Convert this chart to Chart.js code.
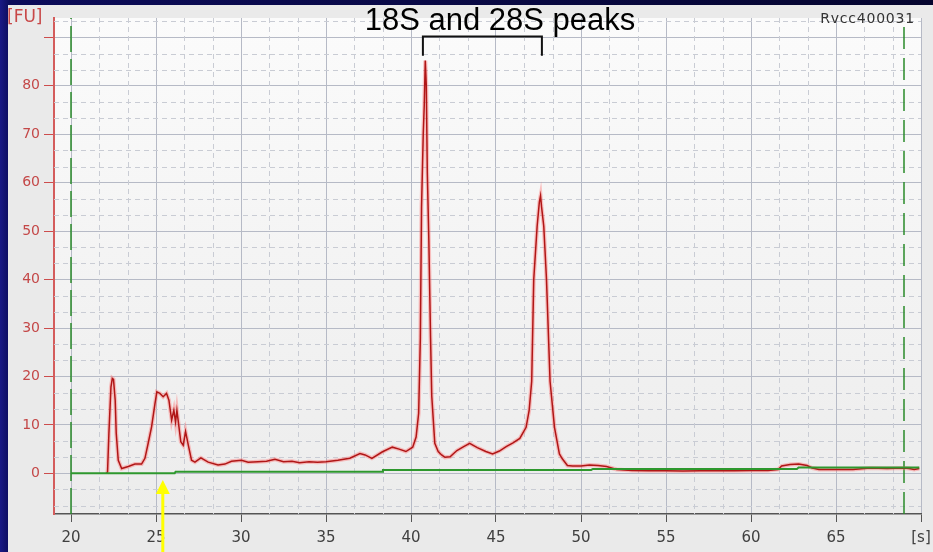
<!DOCTYPE html>
<html>
<head>
<meta charset="utf-8">
<script src="https://cdn.jsdelivr.net/npm/chart.js@4.4.0/dist/chart.umd.min.js"></script>
<style>
  html, body { margin: 0; padding: 0; }
  body {
    width: 933px; height: 552px; overflow: hidden; position: relative;
    background: linear-gradient(90deg, #1a1a86 0px, #0c0c5a 10px, #05052e 100%);
  }
  #panel { position: absolute; left: 8px; top: 5px; width: 925px; height: 547px; background: #eaeaea; }
  #wrap { position: absolute; left: 0; top: 0; width: 933px; height: 552px; }
  .lbl { position: absolute; white-space: nowrap; }
  #title { left: 300px; width: 400px; top: 4px; text-align: center; font: 31px/31px "Liberation Sans", Arial, sans-serif; color: #000; }
  #runid { right: 18px; top: 10px; font: 14px/16px "DejaVu Sans", sans-serif; letter-spacing: 0.8px; color: #333; }
  #unit { left: 7px; top: 7px; font: 17px/18px "DejaVu Sans", sans-serif; color: #c84848; }
</style>
</head>
<body>
<div id="panel"></div>
<div id="wrap"><canvas id="myChart" width="933" height="552"></canvas></div>
<div class="lbl" id="title">18S and 28S peaks</div>
<div class="lbl" id="runid">Rvcc400031</div>
<div class="lbl" id="unit">[FU]</div>
<script>
// electropherogram data
const redTime = [22.10, 22.15, 22.23, 22.35, 22.43, 22.50, 22.60, 22.66, 22.78, 22.98, 23.37, 23.76, 24.15, 24.35, 24.54, 24.74, 24.94, 25.05, 25.23, 25.42,
  25.62, 25.76, 25.92, 26.05, 26.15, 26.23, 26.35, 26.46, 26.60, 26.74, 26.90, 27.09, 27.29, 27.64, 28.07, 28.65, 29.05, 29.44, 30.03, 30.42,
  31.0, 31.5, 32.0, 32.5, 33.0, 33.45, 34.0, 34.5, 35.0, 35.7, 36.4, 37.0, 37.3, 37.7, 38.3, 38.9, 39.3, 39.7, 40.1, 40.3,
  40.45, 40.55, 40.62, 40.72, 40.78, 40.84, 40.90, 40.96, 41.05, 41.15, 41.22, 41.40, 41.60, 41.80, 42.00, 42.30, 42.70, 43.10, 43.45, 43.90,
  44.40, 44.80, 45.20, 45.60, 46.00, 46.40, 46.77, 46.95, 47.10, 47.22, 47.42, 47.55, 47.62, 47.68, 47.81, 47.97, 48.18, 48.44, 48.73, 48.90,
  49.20, 49.50, 50.00, 50.50, 51.00, 51.50, 52.10, 53, 54, 55, 56, 57, 58, 59, 60, 61, 61.6, 61.8, 62.3, 62.8,
  63.3, 63.6, 64.0, 64.8, 65.4, 66.0, 67.0, 68.0, 69.0, 69.3, 69.6, 69.9];
const redFU = [0, 0.3, 8.3, 17.8, 19.6, 19.4, 15.1, 8.3, 2.7, 1.0, 1.4, 1.9, 1.9, 3.1, 6.2, 9.6, 14.4, 16.8, 16.5, 15.8,
  16.5, 15.1, 11.0, 13.0, 10.6, 13.0, 9.6, 6.5, 5.8, 8.6, 5.8, 2.7, 2.3, 3.2, 2.3, 1.7, 1.9, 2.5, 2.7, 2.3,
  2.4, 2.5, 2.9, 2.4, 2.5, 2.2, 2.4, 2.3, 2.4, 2.7, 3.1, 4.1, 3.8, 3.1, 4.4, 5.4, 5.0, 4.5, 5.4, 7.5,
  12.4, 28, 55, 70, 76, 85.2, 80, 62, 48, 28, 16, 6.2, 4.5, 3.8, 3.3, 3.4, 4.7, 5.5, 6.2, 5.3,
  4.5, 4.0, 4.6, 5.5, 6.3, 7.2, 9.5, 13, 19, 40, 51, 56, 57.3, 55, 51, 40, 19, 9.5, 4.0, 3.0,
  1.6, 1.5, 1.5, 1.7, 1.6, 1.4, 0.8, 0.6, 0.55, 0.55, 0.5, 0.55, 0.55, 0.55, 0.6, 0.6, 0.8, 1.5, 1.8, 1.9,
  1.6, 1.1, 0.8, 0.8, 0.8, 0.8, 1.1, 1.0, 1.1, 1.0, 0.8, 1.0];
const greenTime = [20.0, 26.1, 26.15, 38.3, 38.35, 50.6, 50.7, 62.7, 62.8, 69.9];
const greenFU = [0, 0, 0.3, 0.3, 0.7, 0.7, 0.9, 0.9, 1.2, 1.2];

const markerTimes = [20, 69];
const xTicks = [20, 25, 30, 35, 40, 45, 50, 55, 60, 65, 70];
const xTickLabels = ['20', '25', '30', '35', '40', '45', '50', '55', '60', '65', '[s]'];
const yTicks = [0, 10, 20, 30, 40, 50, 60, 70, 80, 90];
const yTickLabels = ['0', '10', '20', '30', '40', '50', '60', '70', '80', ''];
const peakTimes = [40.7, 47.7];
const arrowTime = 25.4;

const xMin = 19, xMax = 70, yMin = -8.4, yMax = 94;

function pts(xs, ys) {
  return xs.map((v, i) => ({x: v, y: ys[i]}));
}

// plot background + dashed minor grid
const backdrop = {
  id: 'backdrop',
  beforeDraw(chart) {
    const {ctx, chartArea: a} = chart;
    const g = ctx.createLinearGradient(0, a.top, 0, a.bottom);
    g.addColorStop(0, '#fbfbfb');
    g.addColorStop(1, '#ececec');
    ctx.save();
    ctx.fillStyle = g;
    ctx.fillRect(a.left, a.top, a.right - a.left, a.bottom - a.top);
    ctx.restore();
  },
  beforeDatasetsDraw(chart) {
    const {ctx, chartArea: a, scales: {x, y}} = chart;
    ctx.save();
    ctx.strokeStyle = '#c9ccd4';
    ctx.lineWidth = 1;
    ctx.setLineDash([5, 4]);
    ctx.beginPath();
    for (let i = -1; i <= 30; i++) {
      if (i % 3 === 0) continue;
      const v = 20 + i * 5 / 3;
      if (v <= x.min || v >= x.max) continue;
      const px = Math.round(x.getPixelForValue(v)) + 0.5;
      ctx.moveTo(px, a.top); ctx.lineTo(px, a.bottom);
    }
    for (let i = -3; i <= 29; i++) {
      if (i % 3 === 0) continue;
      const v = i * 10 / 3;
      if (v <= y.min || v >= y.max) continue;
      const py = Math.round(y.getPixelForValue(v)) + 0.5;
      ctx.moveTo(a.left, py); ctx.lineTo(a.right, py);
    }
    ctx.stroke();
    ctx.restore();
  }
};

// bracket over the two peaks, yellow arrow
const marks = {
  id: 'marks',
  afterDraw(chart) {
    const {ctx, scales: {x, y}} = chart;
    const x1 = x.getPixelForValue(peakTimes[0]), x2 = x.getPixelForValue(peakTimes[1]);
    const top = y.getPixelForValue(90.2), bot = y.getPixelForValue(86.2);
    ctx.save();
    ctx.strokeStyle = '#111';
    ctx.lineWidth = 2;
    ctx.beginPath();
    ctx.moveTo(x1, bot); ctx.lineTo(x1, top); ctx.lineTo(x2, top); ctx.lineTo(x2, bot);
    ctx.stroke();

    const ax = x.getPixelForValue(arrowTime);
    const tip = y.getPixelForValue(-1.4);
    ctx.fillStyle = '#ffff00';
    ctx.fillRect(ax - 1.5, tip + 11, 3, chart.height - tip - 11);
    ctx.beginPath();
    ctx.moveTo(ax, tip); ctx.lineTo(ax - 7, tip + 14); ctx.lineTo(ax + 7, tip + 14);
    ctx.closePath();
    ctx.fill();
    ctx.restore();
  }
};

const ctx = document.getElementById('myChart').getContext('2d');
const myChart = new Chart(ctx, {
  type: 'line',
  data: {
    datasets: [
      {
        label: 'ladder',
        data: pts(greenTime, greenFU),
        borderColor: '#2e982e',
        borderWidth: 2,
        pointRadius: 0
      },
      {
        label: 'sample',
        data: pts(redTime, redFU),
        borderColor: '#b01616',
        borderWidth: 1.5,
        pointRadius: 0
      },
      {
        label: 'sample glow',
        data: pts(redTime, redFU),
        borderColor: 'rgba(255, 110, 110, 0.4)',
        borderWidth: 4,
        pointRadius: 0
      },
      {
        label: 'start',
        data: [{x: markerTimes[0], y: yMin}, {x: markerTimes[0], y: yMax}],
        borderColor: '#2a8a2a',
        borderWidth: 1.5,
        borderDash: [26, 7],
        pointRadius: 0
      },
      {
        label: 'end',
        data: [{x: markerTimes[1], y: yMin}, {x: markerTimes[1], y: yMax}],
        borderColor: '#2a8a2a',
        borderWidth: 1.5,
        borderDash: [22, 9],
        pointRadius: 0
      }
    ]
  },
  options: {
    responsive: false,
    animation: false,
    devicePixelRatio: 1,
    layout: { padding: { left: 0, top: 18, right: 12, bottom: 0 } },
    plugins: { legend: { display: false }, tooltip: { enabled: false } },
    scales: {
      x: {
        type: 'linear',
        min: xMin,
        max: xMax,
        afterBuildTicks: s => { s.ticks = xTicks.map(v => ({value: v})); },
        afterFit: s => { s.height = 38; s.paddingLeft = 0; s.paddingRight = 0; },
        ticks: {
          autoSkip: false,
          maxRotation: 0,
          padding: 7,
          color: '#404040',
          font: { family: 'DejaVu Sans', size: 15 },
          callback: (v, i) => xTickLabels[i]
        },
        grid: { color: '#b6bac6', lineWidth: 1, tickLength: 8, tickColor: '#555' },
        border: { color: '#555', width: 1.5 }
      },
      y: {
        min: yMin,
        max: yMax,
        afterBuildTicks: s => { s.ticks = yTicks.map(v => ({value: v})); },
        afterFit: s => { s.width = 54; s.paddingTop = 0; s.paddingBottom = 0; },
        ticks: {
          autoSkip: false,
          padding: 4,
          color: '#c44848',
          font: { family: 'DejaVu Sans', size: 14 },
          callback: (v, i) => yTickLabels[i]
        },
        grid: { color: '#b6bac6', lineWidth: 1, tickLength: 10, tickColor: '#cc4c4c' },
        border: { color: '#d45c5c', width: 2 }
      }
    }
  },
  plugins: [backdrop, marks]
});
</script>
</body>
</html>
